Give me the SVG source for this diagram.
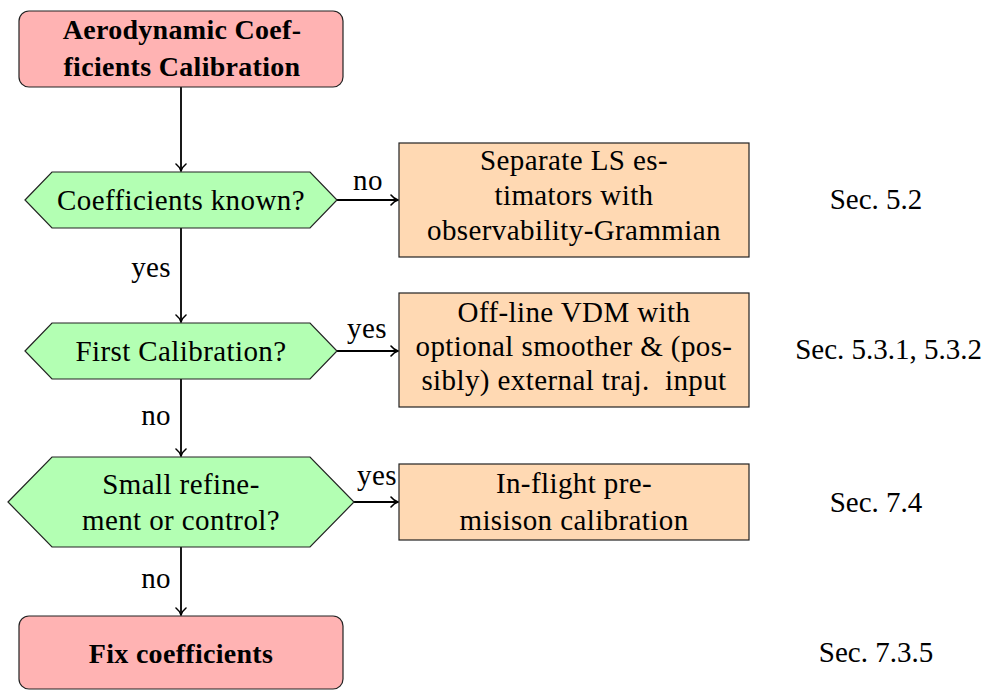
<svg xmlns="http://www.w3.org/2000/svg" width="985" height="691" viewBox="0 0 985 691">
  <style>
    text { font-family: "Liberation Serif", "Times New Roman", serif; font-size: 29px; fill: #000; letter-spacing: 0.4px; }
    .c { text-anchor: middle; }
    .r { text-anchor: end; }
    .b { font-weight: bold; font-size: 28px; letter-spacing: 0.3px; }
    .sec { letter-spacing: 0; }
    .pre { white-space: pre; }
    .term { fill: #ffb3b3; stroke: #222; stroke-width: 1.2; }
    .dec { fill: #b3ffb3; stroke: #222; stroke-width: 1.2; }
    .proc { fill: #ffd9b3; stroke: #222; stroke-width: 1.2; }
    .edge { fill: none; stroke: #000; stroke-width: 1.8; marker-end: url(#arrow); }
  </style>
  <defs>
    <marker id="arrow" markerUnits="userSpaceOnUse" viewBox="-10 -6 12 12" refX="0" refY="0" markerWidth="12" markerHeight="12" orient="auto">
      <path d="M -7,-5 C -5,-2.5 -2,-0.6 0,0 C -2,0.6 -5,2.5 -7,5" fill="none" stroke="#000" stroke-width="1.6" stroke-linecap="round"/>
    </marker>
  </defs>
  <rect width="985" height="691" fill="#fff"/>

  <!-- connectors -->
  <g id="connectors">
    <line class="edge" x1="181" y1="87" x2="181" y2="171"/>
    <line class="edge" x1="337" y1="200" x2="398" y2="200"/>
    <line class="edge" x1="181" y1="228" x2="181" y2="322"/>
    <line class="edge" x1="337" y1="351" x2="398" y2="351"/>
    <line class="edge" x1="181" y1="379" x2="181" y2="456"/>
    <line class="edge" x1="354" y1="502" x2="398" y2="502"/>
    <line class="edge" x1="181" y1="547" x2="181" y2="615"/>
    <text x="368" y="190" class="c">no</text>
    <text x="171" y="277" class="r">yes</text>
    <text x="367" y="338" class="c">yes</text>
    <text x="171" y="425" class="r">no</text>
    <text x="377" y="485" class="c">yes</text>
    <text x="171" y="588" class="r">no</text>
  </g>

  <!-- start -->
  <g id="start">
    <rect class="term" x="19" y="11" width="324" height="76" rx="10"/>
    <text x="182" y="39" class="c b">Aerodynamic Coef-</text>
    <text x="182" y="76" class="c b">ficients Calibration</text>
  </g>

  <!-- decision: coefficients known -->
  <g id="known">
    <polygon class="dec" points="25,200 52,172 310,172 337,200 310,228 52,228"/>
    <text x="181" y="210" class="c">Coefficients known?</text>
  </g>

  <g id="ls">
    <rect class="proc" x="399" y="143" width="350" height="114"/>
    <text x="574" y="170" class="c">Separate LS es-</text>
    <text x="574" y="205" class="c">timators with</text>
    <text x="574" y="240" class="c">observability-Grammian</text>
  </g>
  <text x="876" y="209" class="c sec">Sec. 5.2</text>

  <!-- decision: first calibration -->
  <g id="first">
    <polygon class="dec" points="25,351 52,323 310,323 337,351 310,379 52,379"/>
    <text x="181" y="361" class="c">First Calibration?</text>
  </g>

  <g id="vdm">
    <rect class="proc" x="399" y="293" width="350" height="114"/>
    <text x="574" y="322" class="c">Off-line VDM with</text>
    <text x="574" y="356" class="c">optional smoother &amp; (pos-</text>
    <text x="574" y="390" class="c pre">sibly) external traj.  input</text>
  </g>
  <text x="982" y="359" class="r sec">Sec. 5.3.1, 5.3.2</text>

  <!-- decision: refinement -->
  <g id="refine">
    <polygon class="dec" points="8,502 52,457 310,457 354,502 310,547 52,547"/>
    <text x="181" y="494" class="c">Small refine-</text>
    <text x="181" y="530" class="c">ment or control?</text>
  </g>

  <g id="inflight">
    <rect class="proc" x="399" y="464" width="350" height="76"/>
    <text x="574" y="493" class="c">In-flight pre-</text>
    <text x="574" y="530" class="c">misison calibration</text>
  </g>
  <text x="876" y="512" class="c sec">Sec. 7.4</text>

  <!-- end -->
  <g id="fix">
    <rect class="term" x="19" y="616" width="324" height="73" rx="10"/>
    <text x="181" y="663" class="c b">Fix coefficients</text>
  </g>
  <text x="876" y="662" class="c sec">Sec. 7.3.5</text>
</svg>
